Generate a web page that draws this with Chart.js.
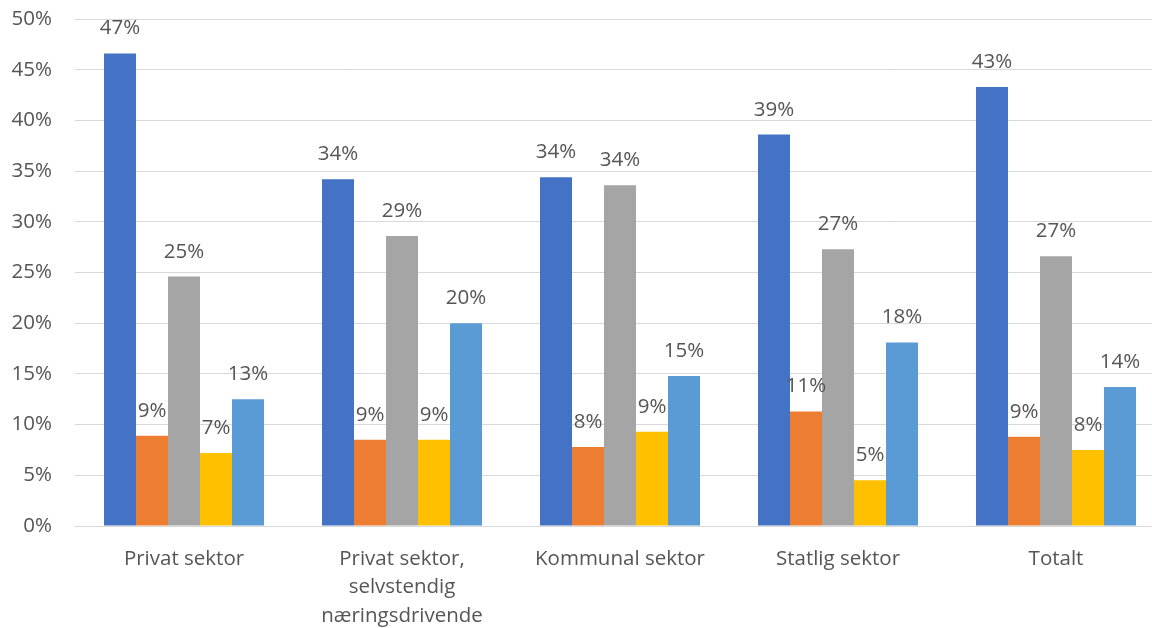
<!DOCTYPE html>
<html lang="no">
<head>
  <meta charset="UTF-8">
  <title>Sektorer</title>
  <style>
    html, body { margin: 0; padding: 0; background: #fff; overflow: hidden; }
    .wrap { width: 1166px; height: 628px; position: relative; }
  </style>
</head>
<body>
  <div class="wrap"><canvas id="chart"></canvas></div>

  <script src="https://cdn.jsdelivr.net/npm/chart.js"></script>
  <script>
    const categories = [
      'Privat sektor',
      ['Privat sektor,', 'selvstendig', 'næringsdrivende'],
      'Kommunal sektor',
      'Statlig sektor',
      'Totalt'
    ];
    const series1 = [46.6, 34.2, 34.4, 38.6, 43.3];
    const series2 = [8.9, 8.5, 7.8, 11.3, 8.8];
    const series3 = [24.6, 28.6, 33.6, 27.3, 26.6];
    const series4 = [7.2, 8.5, 9.3, 4.5, 7.5];
    const series5 = [12.5, 20.0, 14.8, 18.1, 13.7];
    const colors = ['#4472C4', '#ED7D31', '#A5A5A5', '#FFC000', '#5B9BD5'];
    const yTicks = [0, 5, 10, 15, 20, 25, 30, 35, 40, 45, 50];

    const textColor = '#555555';
    const fontFamily = '"Open Sans", "Noto Sans", sans-serif';
    const fontSize = 20.5;

    // draws the value above each bar, like Excel data labels
    const barLabels = {
      id: 'barLabels',
      afterDatasetsDraw(chart) {
        const ctx = chart.ctx;
        ctx.save();
        ctx.font = fontSize + 'px ' + fontFamily;
        ctx.fillStyle = textColor;
        ctx.textAlign = 'center';
        ctx.textBaseline = 'alphabetic';
        chart.data.datasets.forEach((ds, i) => {
          chart.getDatasetMeta(i).data.forEach((bar, j) => {
            ctx.fillText(Math.round(ds.data[j]) + '%', bar.x, bar.y - 19);
          });
        });
        ctx.restore();
      }
    };

    const allSeries = [series1, series2, series3, series4, series5];

    new Chart(document.getElementById('chart'), {
      type: 'bar',
      data: {
        labels: categories,
        datasets: allSeries.map((s, i) => ({
          label: 'Serie ' + (i + 1),
          data: s,
          backgroundColor: colors[i],
          borderWidth: 0,
          barPercentage: 1,
          categoryPercentage: 0.734
        }))
      },
      options: {
        responsive: true,
        maintainAspectRatio: false,
        animation: false,
        layout: { padding: { top: 19, right: 1, bottom: 0, left: 0 } },
        plugins: {
          legend: { display: false },
          tooltip: { enabled: false }
        },
        scales: {
          x: {
            grid: { display: false, drawTicks: false },
            border: { color: '#d9d9d9', width: 1 },
            ticks: {
              color: textColor,
              font: { family: fontFamily, size: fontSize, lineHeight: 1.38 },
              padding: 19,
              maxRotation: 0,
              autoSkip: false
            },
            afterFit: s => { s.height = 102; }
          },
          y: {
            min: 0,
            max: 50,
            afterBuildTicks: s => { s.ticks = yTicks.map(v => ({ value: v })); },
            grid: { color: '#d9d9d9', lineWidth: 1, drawTicks: false },
            border: { display: false },
            ticks: {
              color: textColor,
              font: { family: fontFamily, size: fontSize },
              padding: 23,
              callback: v => v + '%'
            },
            afterFit: s => { s.width = 75; s.paddingTop = 0; s.paddingBottom = 0; }
          }
        }
      },
      plugins: [barLabels]
    });
  </script>
</body>
</html>
